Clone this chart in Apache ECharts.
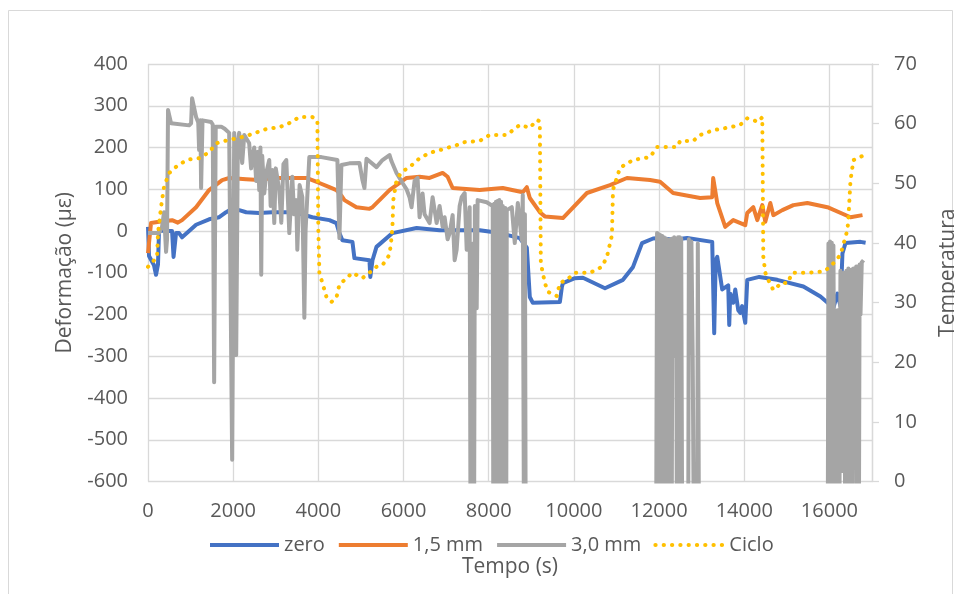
<!DOCTYPE html>
<html><head><meta charset="utf-8">
<script src="https://cdn.jsdelivr.net/npm/echarts@6/dist/echarts.min.js"></script>
<style>html,body{margin:0;padding:0;background:#fff}#c{width:955px;height:594px}</style>
</head><body><div id="c"></div><script>
// ---- data (time in s, deformation in µε, temperature in °C) ----
const seriesNames = ['zero', '1,5 mm', '3,0 mm', 'Ciclo'];

const zeroData = [[0,10],[24,-60],[141,-82],[188,-105],[235,-80],[259,2],[400,0],[565,0],[600,-62],[659,-5],[729,-5],[800,-15],[965,0],[1129,15],[1200,18],[1435,28],[1671,33],[1835,45],[1953,52],[2141,50],[2306,45],[2612,43],[2918,45],[3388,45],[3624,40],[3859,33],[4259,26],[4424,19],[4494,-5],[4565,-22],[4800,-26],[4847,-65],[5200,-70],[5220,-110],[5271,-70],[5365,-38],[5741,-5],[6306,7],[6847,2],[7789,2],[8259,-5],[8730,-17],[8895,-40],[8965,-158],[9036,-172],[9671,-170],[9718,-134],[9742,-125],[10024,-113],[10212,-112],[10730,-137],[11153,-117],[11389,-86],[11600,-29],[11860,-18],[12024,-17],[12330,-21],[12660,-17],[13248,-26],[13295,-245],[13330,-70],[13366,-62],[13483,-140],[13624,-130],[13648,-225],[13671,-150],[13742,-172],[13789,-140],[13860,-190],[13906,-196],[13950,-180],[14024,-220],[14071,-117],[14354,-110],[14777,-117],[15389,-133],[15789,-157],[16094,-184],[16189,-150],[16259,-180],[16306,-54],[16377,-29],[16730,-26],[16850,-28]];

const mm15Data = [[0,-53],[71,19],[259,22],[565,26],[700,20],[800,26],[1129,57],[1435,98],[1741,122],[1906,127],[2306,124],[2612,122],[2918,127],[3718,127],[4024,115],[4259,105],[4424,98],[4541,85],[4612,74],[4894,57],[5200,53],[5271,57],[5671,98],[6071,127],[6377,130],[6612,127],[6918,139],[7035,130],[7153,103],[7789,98],[8330,103],[8800,93],[8895,105],[8965,79],[9200,45],[9318,35],[9742,31],[10306,91],[10848,110],[11247,127],[11789,122],[12024,118],[12330,91],[12965,79],[13248,81],[13271,127],[13366,67],[13554,10],[13742,26],[14024,14],[14071,43],[14212,57],[14307,26],[14424,62],[14495,22],[14612,67],[14683,38],[14895,50],[15153,62],[15483,67],[15953,57],[16495,33],[16777,38]];

const mm30Data = [[0,-5],[259,-5],[330,10],[376,45],[424,-50],[447,-20],[470,290],[541,258],[965,253],[1012,258],[1035,318],[1129,273],[1180,260],[1200,194],[1230,265],[1247,103],[1280,265],[1482,261],[1520,255],[1553,-362],[1590,250],[1720,250],[1800,245],[1906,235],[1976,-548],[2024,235],[2071,-297],[2110,215],[2141,235],[2212,163],[2260,230],[2376,210],[2420,150],[2494,200],[2540,120],[2580,190],[2612,98],[2640,200],[2659,-105],[2682,180],[2730,90],[2776,139],[2847,170],[2880,60],[2918,146],[2965,19],[3000,150],[3082,98],[3130,20],[3180,160],[3247,170],[3318,-5],[3388,130],[3430,40],[3482,74],[3506,-45],[3560,110],[3624,81],[3671,-208],[3700,2],[3788,177],[4071,177],[4447,170],[4494,-17],[4541,158],[4729,162],[4965,163],[5035,122],[5082,103],[5130,173],[5365,153],[5506,170],[5671,182],[5718,167],[5835,139],[5977,115],[6071,100],[6141,81],[6188,57],[6259,120],[6330,127],[6377,33],[6447,90],[6494,40],[6612,19],[6683,81],[6777,19],[6847,60],[6918,10],[6965,33],[7035,-20],[7083,-5],[7153,38],[7200,-70],[7247,-45],[7318,60],[7365,81],[7436,91],[7483,-45],[7553,57],[7575,-800],[7595,-40],[7615,-800],[7635,-30],[7655,-800],[7675,60],[7718,-185],[7740,74],[7953,69],[8094,60],[8110,-800],[8130,65],[8150,-800],[8170,70],[8190,-800],[8210,72],[8230,-800],[8250,74],[8270,-800],[8290,70],[8310,-800],[8330,60],[8360,-800],[8390,55],[8410,-800],[8424,50],[8542,57],[8612,-29],[8683,67],[8777,-22],[8800,86],[8830,-800],[8850,40],[8870,-800],[11930,-800],[11953,-5],[11975,-800],[11995,-8],[12015,-800],[12035,-10],[12055,-800],[12075,-12],[12095,-800],[12115,-15],[12135,-800],[12155,-18],[12175,-800],[12195,-20],[12215,-700],[12235,-22],[12255,-800],[12275,-20],[12295,-800],[12315,-18],[12335,-300],[12355,-15],[12380,-158],[12400,-20],[12420,-800],[12445,-15],[12465,-800],[12485,-15],[12500,-75],[12520,-18],[12545,-800],[12683,-800],[12700,-20],[12730,-292],[12760,-25],[12790,-300],[12820,-800],[12895,-800],[12910,-30],[12940,-800],[15960,-800],[15977,-30],[15995,-800],[16015,-25],[16035,-800],[16055,-28],[16075,-800],[16094,-35],[16130,-800],[16189,-190],[16230,-800],[16259,-95],[16306,-575],[16340,-100],[16377,-800],[16400,-95],[16424,-800],[16445,-90],[16465,-800],[16485,-95],[16505,-800],[16525,-92],[16545,-700],[16565,-90],[16600,-205],[16630,-85],[16650,-800],[16670,-85],[16690,-800],[16710,-80],[16730,-200],[16760,-75],[16801,-70]];

const cicloData = [[0,36],[94,36.8],[212,37.5],[235,41.6],[306,46],[376,49.4],[494,51.7],[729,53.2],[965,54],[1200,54.2],[1435,55.2],[1600,56.7],[1906,57.3],[2141,57.6],[2376,58.1],[2776,59.1],[3082,59.4],[3318,60.1],[3553,61.1],[3859,61.1],[3977,60.5],[4000,42],[4024,35],[4188,31],[4306,30.1],[4424,30.8],[4494,33],[4800,35],[5035,34.1],[5200,35],[5365,36],[5506,36.3],[5671,38],[5718,40.8],[5741,43],[5760,47.2],[5835,50.5],[5953,51.9],[6141,52.7],[6377,54.2],[6612,55.1],[6918,55.7],[7247,56.4],[7436,56.9],[7789,57.1],[8024,58.1],[8424,58.1],[8730,59.8],[8965,59.3],[9130,60.6],[9200,60.4],[9224,36.6],[9318,33.3],[9388,31.8],[9600,31.1],[9671,33.3],[9835,33.8],[10024,35],[10377,35],[10660,36],[10777,37.7],[10894,41.3],[10918,48.9],[11083,52.6],[11389,53.9],[11789,54.4],[11953,56.1],[12424,56.1],[12495,57.1],[12801,57.1],[12965,58.1],[13271,58.9],[13671,59.4],[13906,59.8],[14071,60.9],[14330,60.3],[14424,61.1],[14448,37.7],[14495,35],[14565,33.8],[14683,32.1],[14895,33.4],[15012,33.2],[15130,35],[15483,35],[15860,35.2],[16024,36],[16259,38],[16424,42.2],[16448,44.4],[16495,50.5],[16565,53.9],[16777,54.6]];

const xTicks = [0, 2000, 4000, 6000, 8000, 10000, 12000, 14000, 16000];

// ---- chart ----
const FONT = 'Open Sans';
const TXT = '#595959';
const GRID = '#d9d9d9';
const chart = echarts.init(document.getElementById('c'), null, {renderer: 'canvas'});
const lineW = 4;
chart.setOption({
  animation: false,
  backgroundColor: '#fff',
  textStyle: {fontFamily: FONT},
  graphic: [{
    type: 'rect', shape: {x: 8.5, y: 10.5, width: 944, height: 600},
    style: {fill: 'none', stroke: GRID, lineWidth: 1}, silent: true
  }],
  grid: {left: 148, top: 64, right: 83, bottom: 112.5, containLabel: false, outerBoundsMode: 'none'},
  legend: {
    data: seriesNames, left: 203, top: 530, itemWidth: 69, itemHeight: 14, itemGap: 12,
    itemStyle: {color: 'rgba(0,0,0,0)', borderWidth: 0, opacity: 0},
    lineStyle: {width: 4},
    textStyle: {fontFamily: FONT, fontSize: 20, color: TXT}
  },
  xAxis: {
    type: 'value', min: 0, max: 17000, interval: 2000,
    name: 'Tempo (s)', nameLocation: 'middle', nameGap: 75,
    nameTextStyle: {fontFamily: FONT, fontSize: 21, color: TXT},
    axisLine: {show: false}, axisTick: {show: false},
    axisLabel: {fontFamily: FONT, fontSize: 20, color: TXT, margin: 20, showMaxLabel: false,
      formatter: v => xTicks.indexOf(v) >= 0 ? String(v) : ''},
    splitLine: {show: true, lineStyle: {color: GRID, width: 1.3}}
  },
  yAxis: [{
    type: 'value', min: -600, max: 400, interval: 100,
    name: 'Deformação (με)', nameLocation: 'middle', nameGap: 72, nameRotate: 90,
    nameTextStyle: {fontFamily: FONT, fontSize: 21, color: TXT},
    axisLine: {show: false}, axisTick: {show: false},
    axisLabel: {fontFamily: FONT, fontSize: 20, color: TXT, margin: 20},
    splitLine: {show: true, lineStyle: {color: GRID, width: 1.3}}
  }, {
    type: 'value', min: 0, max: 70, interval: 10, position: 'right',
    name: 'Temperatura', nameLocation: 'middle', nameGap: 66, nameRotate: 90,
    nameTextStyle: {fontFamily: FONT, fontSize: 21, color: TXT},
    axisLine: {show: true, lineStyle: {color: GRID, width: 1.3}},
    axisTick: {show: true, length: 7, lineStyle: {color: GRID, width: 1.3}},
    axisLabel: {fontFamily: FONT, fontSize: 20, color: TXT, margin: 22},
    splitLine: {show: false}
  }],
  series: [
    {name: seriesNames[0], type: 'line', data: zeroData, yAxisIndex: 0, symbol: 'none', showSymbol: false,
     color: '#4472C4', lineStyle: {width: lineW, color: '#4472C4', join: 'round'}},
    {name: seriesNames[1], type: 'line', data: mm15Data, yAxisIndex: 0, symbol: 'none', showSymbol: false,
     color: '#ED7D31', lineStyle: {width: lineW, color: '#ED7D31', join: 'round'}},
    {name: seriesNames[2], type: 'line', data: mm30Data, yAxisIndex: 0, symbol: 'none', showSymbol: false,
     color: '#A5A5A5', lineStyle: {width: lineW, color: '#A5A5A5', join: 'round'}},
    {name: seriesNames[3], type: 'line', data: cicloData, yAxisIndex: 1, symbol: 'none', showSymbol: false,
     color: '#FFC000', lineStyle: {width: 4, color: '#FFC000', type: [0.3, 8], cap: 'round'}}
  ]
});
</script></body></html>
